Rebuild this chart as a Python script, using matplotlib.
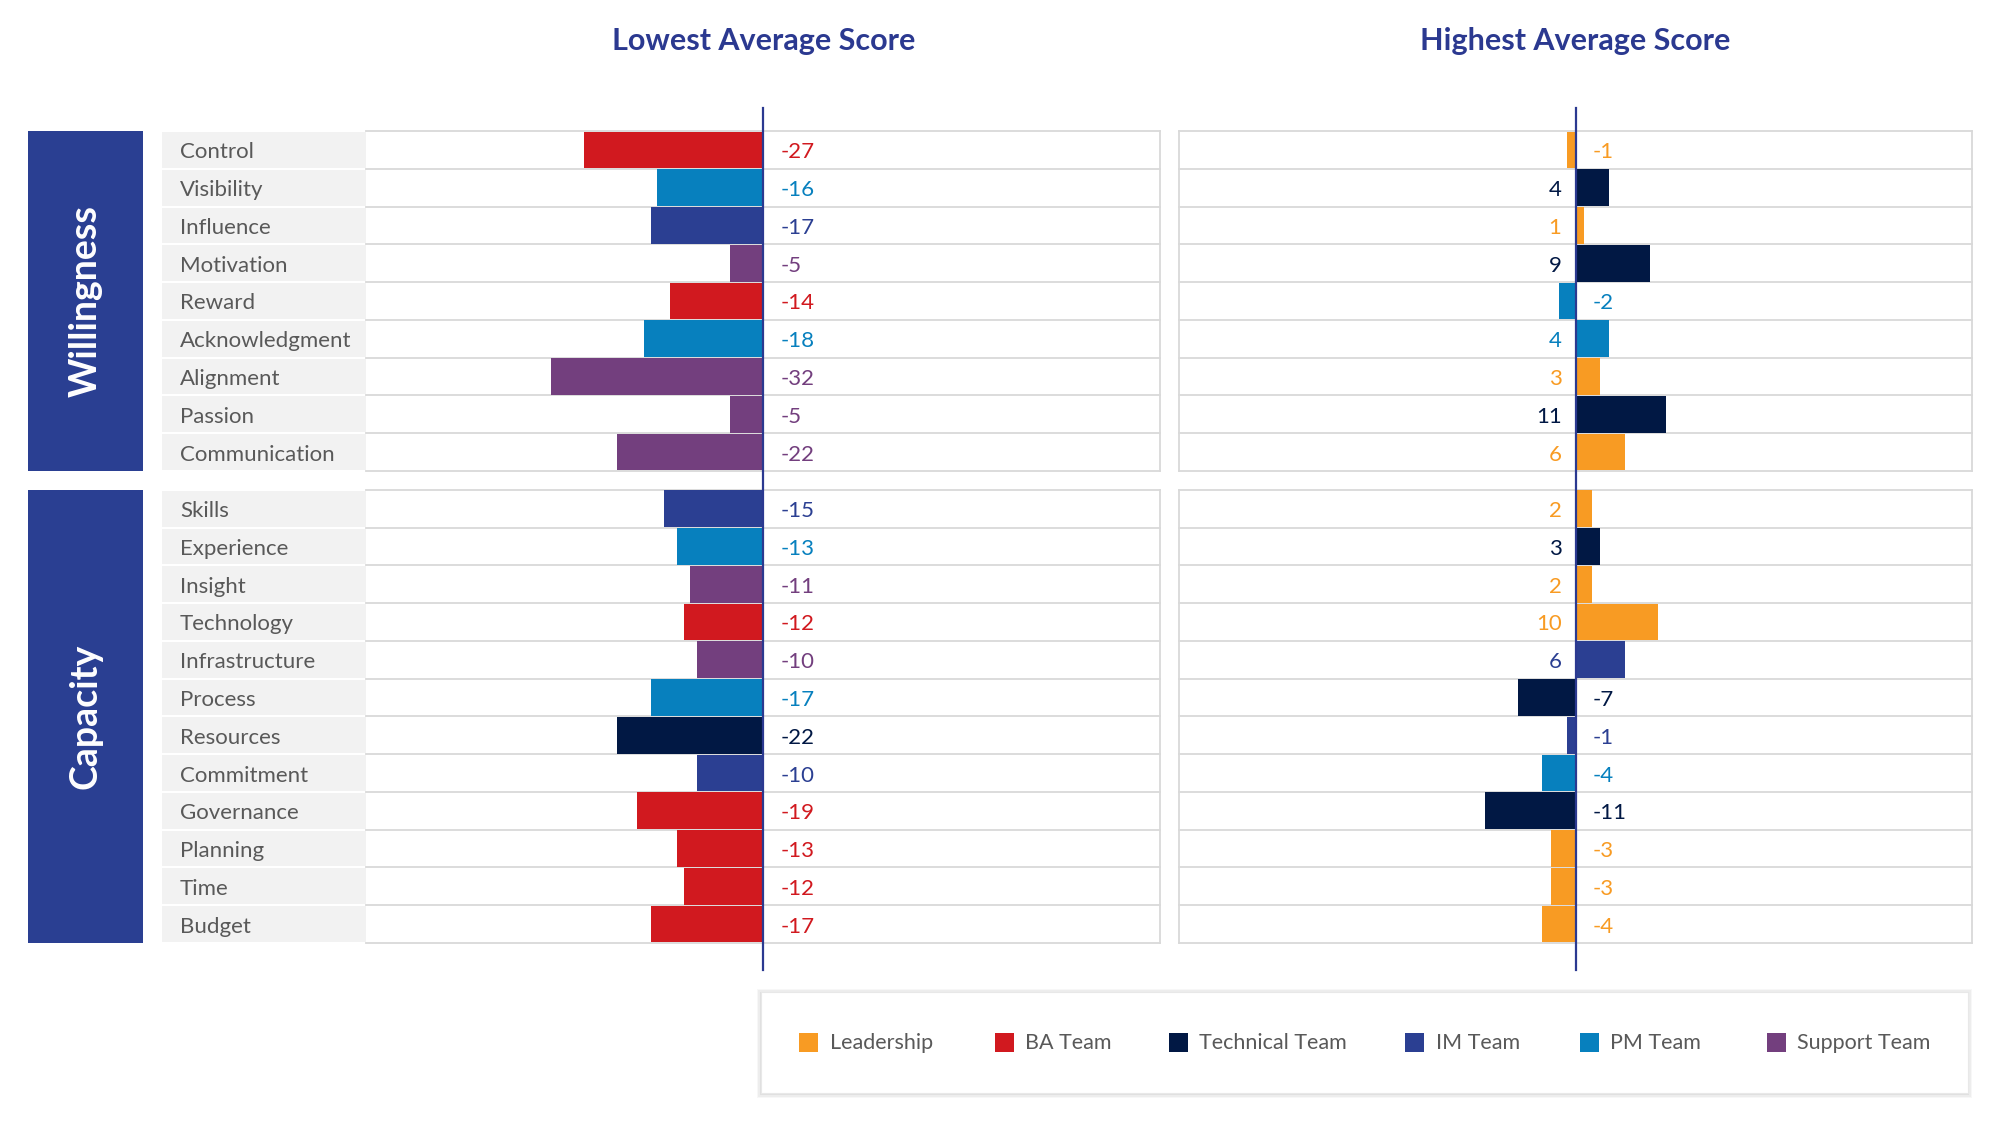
import matplotlib
matplotlib.use("Agg")
import matplotlib.pyplot as plt
from matplotlib.patches import Rectangle

plt.rcParams['font.family'] = ['Lato', 'DejaVu Sans']

# ---------------- data ----------------
groups = ["Willingness", "Capacity"]
willingness_items = ["Control", "Visibility", "Influence", "Motivation", "Reward",
                     "Acknowledgment", "Alignment", "Passion", "Communication"]
capacity_items = ["Skills", "Experience", "Insight", "Technology", "Infrastructure",
                  "Process", "Resources", "Commitment", "Governance", "Planning",
                  "Time", "Budget"]

low_values = [-27, -16, -17, -5, -14, -18, -32, -5, -22,
              -15, -13, -11, -12, -10, -17, -22, -10, -19, -13, -12, -17]
low_teams = ["BA Team", "PM Team", "IM Team", "Support Team", "BA Team", "PM Team",
             "Support Team", "Support Team", "Support Team",
             "IM Team", "PM Team", "Support Team", "BA Team", "Support Team", "PM Team",
             "Technical Team", "IM Team", "BA Team", "BA Team", "BA Team", "BA Team"]

high_values = [-1, 4, 1, 9, -2, 4, 3, 11, 6,
               2, 3, 2, 10, 6, -7, -1, -4, -11, -3, -3, -4]
high_teams = ["Leadership", "Technical Team", "Leadership", "Technical Team", "PM Team",
              "PM Team", "Leadership", "Technical Team", "Leadership",
              "Leadership", "Technical Team", "Leadership", "Leadership", "IM Team",
              "Technical Team", "IM Team", "PM Team", "Technical Team", "Leadership",
              "Leadership", "Leadership"]

teams = ["Leadership", "BA Team", "Technical Team", "IM Team", "PM Team", "Support Team"]
team_colors = ["#F89B23", "#D1191F", "#011844", "#2B3F92", "#0780BE", "#733F7E"]
panel_titles = ["Lowest Average Score", "Highest Average Score"]

# ---------------- layout ----------------
W, H = 2000, 1123
TOP, BOTTOM = 131, 943
GAP = 0.5
n_w, n_c = len(willingness_items), len(capacity_items)
TOTAL = n_w + n_c + GAP
ROW = (BOTTOM - TOP) / TOTAL
row_pos = [i + 0.5 for i in range(n_w)] + [n_w + GAP + j + 0.5 for j in range(n_c)]
items = willingness_items + capacity_items
group_spans = [(0, n_w), (n_w + GAP, TOTAL)]
color_of = dict(zip(teams, team_colors))

TITLE_C = "#2B3990"
TEXT_C = "#595959"
LINE_C = "#D9D9D9"
TXT_SHIFT = 2.5  # px downward nudge for row texts

def py(r):
    return TOP + r * ROW

fig = plt.figure(figsize=(W / 100, H / 100), dpi=100)
bg = fig.add_axes([0, 0, 1, 1])
bg.set_xlim(0, W)
bg.set_ylim(H, 0)
bg.axis("off")

# group boxes
for g, (a, b) in zip(groups, group_spans):
    bg.add_patch(Rectangle((28, py(a)), 115, py(b) - py(a), facecolor="#2A3F92", edgecolor="none"))
    bg.text(85.5, (py(a) + py(b)) / 2, g, rotation=90, ha="center", va="center",
            fontsize=27, fontweight="bold", color="white")

# label cells
for name, r in zip(items, row_pos):
    bg.add_patch(Rectangle((162, py(r - 0.5) + 1), 204, ROW - 2, facecolor="#F2F2F2", edgecolor="none"))
    bg.text(180, py(r) + TXT_SHIFT, name, ha="left", va="center", fontsize=16, color=TEXT_C)

# panel grids
panels_px = [(366, 1160), (1179, 1972)]
for (x0, x1) in panels_px:
    for (a, b) in group_spans:
        k = a
        while k <= b + 1e-9:
            bg.plot([x0, x1], [py(k), py(k)], color=LINE_C, lw=1.3, zorder=1)
            k += 1
        for xx in ([x1] if x0 == 366 else [x0, x1]):
            bg.plot([xx, xx], [py(a), py(b)], color=LINE_C, lw=1.3, zorder=1)

# titles
bg.text(764, 41, panel_titles[0], ha="center", va="center", fontsize=22,
        fontweight="bold", color=TITLE_C)
bg.text(1575, 41, panel_titles[1], ha="center", va="center", fontsize=22,
        fontweight="bold", color=TITLE_C)

# legend box with soft shadow
lx, ly, lw_, lh = 761, 992, 1207, 101
for i, a in enumerate([0.03, 0.04, 0.05]):
    d = 4 - i * 1.3
    bg.add_patch(Rectangle((lx - d, ly - d + 1), lw_ + 2 * d, lh + 2 * d, facecolor="black",
                           alpha=a, edgecolor="none", zorder=2))
bg.add_patch(Rectangle((lx, ly), lw_, lh, facecolor="white", edgecolor="#E8E8E8", lw=0.8, zorder=3))
sq_x = [799, 995, 1169, 1405, 1580, 1767]
tx_x = [830, 1025, 1199, 1436, 1610, 1797]
for t, c, sx, tx in zip(teams, team_colors, sq_x, tx_x):
    bg.add_patch(Rectangle((sx, 1033), 19, 19, facecolor=c, edgecolor="none", zorder=4))
    bg.text(tx, 1043, t, ha="left", va="center", fontsize=15.5, color=TEXT_C, zorder=4)

# ---------------- bar panels ----------------
line_lo = -(970 - BOTTOM) / (BOTTOM - TOP)
line_hi = 1 + (TOP - 108) / (BOTTOM - TOP)
limits = [60, 48]
datasets = [(low_values, low_teams), (high_values, high_teams)]
for k, ((x0, x1), lim, (vals, tms)) in enumerate(zip(panels_px, limits, datasets)):
    ax = fig.add_axes([x0 / W, (H - BOTTOM) / H, (x1 - x0) / W, (BOTTOM - TOP) / H])
    ax.set_facecolor("none")
    ax.set_xlim(-lim, lim)
    ax.set_ylim(TOTAL, 0)
    ax.axis("off")
    cols = [color_of[t] for t in tms]
    ax.barh(row_pos, vals, height=0.97, color=cols, edgecolor="none", zorder=2)
    ax.axvline(0, ymin=line_lo, ymax=line_hi, color=TITLE_C, lw=1.6, clip_on=False, zorder=3)
    for v, r, c in zip(vals, row_pos, cols):
        if k == 0:
            dx, ha = 18, "left"
        elif v > 0:
            dx, ha = -14, "right"
        else:
            dx, ha = 17, "left"
        ax.annotate(str(v), xy=(0, r), xytext=(dx, -TXT_SHIFT), textcoords="offset pixels",
                    ha=ha, va="center", fontsize=16, color=c, zorder=4)

fig.savefig("out.png", dpi=100, facecolor="white")
